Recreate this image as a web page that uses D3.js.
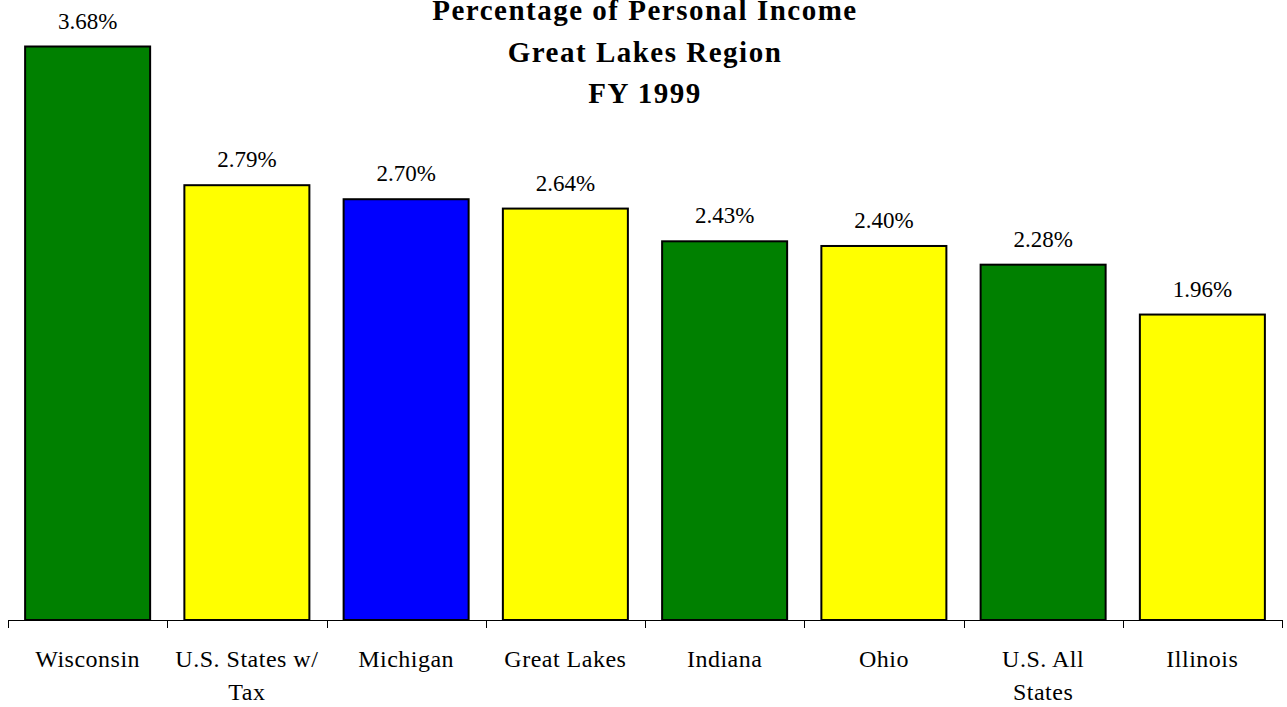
<!DOCTYPE html>
<html>
<head>
<meta charset="utf-8">
<script src="https://cdn.jsdelivr.net/npm/d3@7"></script>
<style>
  html, body { margin: 0; padding: 0; background: #fff; }
  svg { display: block; }
</style>
</head>
<body>
<svg id="chart" width="1287" height="707" font-family="'Liberation Serif', Tinos, 'Times New Roman', Times, 'DejaVu Serif', serif"></svg>
<script>
// Tax burden as a share of personal income, FY 1999
const categories = ["Wisconsin", "U.S. States w/ Tax", "Michigan", "Great Lakes", "Indiana", "Ohio", "U.S. All States", "Illinois"];
const categoryLines = [["Wisconsin"], ["U.S. States w/", "Tax"], ["Michigan"], ["Great Lakes"], ["Indiana"], ["Ohio"], ["U.S. All", "States"], ["Illinois"]];
const values = [3.68, 2.79, 2.70, 2.64, 2.43, 2.40, 2.28, 1.96];
const barColors = ["#008000", "#FFFF00", "#0000FF", "#FFFF00", "#008000", "#FFFF00", "#008000", "#FFFF00"];
const titleLines = ["Percentage of Personal Income", "Great Lakes Region", "FY 1999"];

const svg = d3.select("#chart");
const left = 8, right = 1282, baseline = 620;

const x = d3.scaleBand().domain(categories).range([left, right]).paddingInner(0.215).paddingOuter(0.1075);
const y = d3.scaleLinear().domain([0, 3.68]).range([baseline, 46.5]);

// bars
svg.append("g").selectAll("rect")
  .data(values)
  .join("rect")
  .attr("x", (d, i) => x(categories[i]))
  .attr("y", d => y(d))
  .attr("width", x.bandwidth())
  .attr("height", d => baseline - y(d))
  .attr("fill", (d, i) => barColors[i])
  .attr("stroke", "#000")
  .attr("stroke-width", 2);

// value labels
svg.append("g").selectAll("text")
  .data(values)
  .join("text")
  .attr("x", (d, i) => x(categories[i]) + x.bandwidth() / 2)
  .attr("y", d => y(d) - 18)
  .attr("text-anchor", "middle")
  .attr("font-size", 23)
  .text(d => d.toFixed(2) + "%");

// category axis: baseline with ticks on band boundaries
const axis = svg.append("g").attr("stroke", "#000").attr("stroke-width", 1);
axis.append("line")
  .attr("x1", left).attr("x2", right)
  .attr("y1", baseline + 0.5).attr("y2", baseline + 0.5);
const boundaries = d3.range(categories.length + 1).map(i => left + i * (right - left) / categories.length);
axis.selectAll("line.tick")
  .data(boundaries)
  .join("line")
  .attr("class", "tick")
  .attr("x1", d => Math.round(d) + 0.5).attr("x2", d => Math.round(d) + 0.5)
  .attr("y1", baseline).attr("y2", baseline + 8);

const labels = svg.append("g").selectAll("text")
  .data(categories)
  .join("text")
  .attr("text-anchor", "middle")
  .attr("font-size", 24)
  .attr("letter-spacing", 0.5);
labels.each(function (c, i) {
  const t = d3.select(this);
  categoryLines[i].forEach((line, k) => {
    t.append("tspan")
      .attr("x", x(c) + x.bandwidth() / 2)
      .attr("y", 667 + k * 33)
      .text(line);
  });
});

// title
svg.append("g").selectAll("text")
  .data(titleLines)
  .join("text")
  .attr("x", 645)
  .attr("y", (d, i) => 20 + i * 41.5)
  .attr("text-anchor", "middle")
  .attr("font-size", 29)
  .attr("font-weight", "bold")
  .attr("letter-spacing", 1.5)
  .text(d => d);
</script>
</body>
</html>
